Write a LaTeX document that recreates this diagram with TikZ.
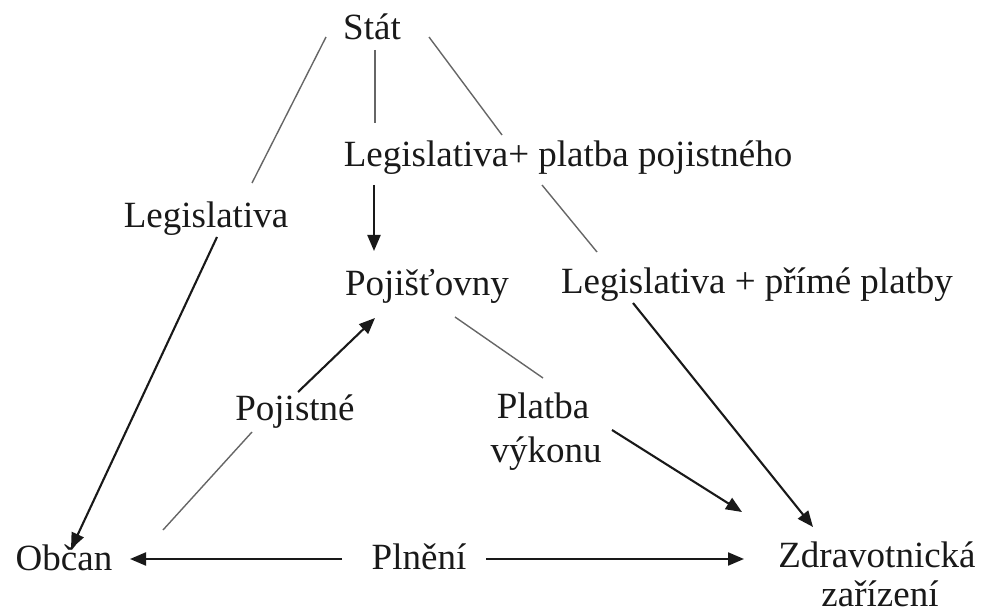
\documentclass[tikz,border=0pt]{standalone}
\usepackage{fontspec}
\setmainfont{Liberation Serif}
\usetikzlibrary{arrows.meta}
\begin{document}
\begin{tikzpicture}[x=1pt,y=-1pt,
  lbl/.style={font=\fontsize{37}{42}\selectfont, inner sep=0pt, anchor=base, text=black!90},
  thinline/.style={draw=black!60, line width=1.4pt},
  arr/.style={draw=black!90, line width=2.1pt, -{Triangle[length=16pt,width=13pt]}}]
\useasboundingbox (0,0) rectangle (984,612);
% labels
\node[lbl] (stat)    at (372,40)  {Stát};
\node[lbl] (legA)    at (568,167) {Legislativa+ platba pojistného};
\node[lbl] (legL)    at (206,228) {Legislativa};
\node[lbl] (poj)     at (427,295) {Pojišťovny};
\node[lbl] (legB)    at (757,293) {Legislativa + přímé platby};
\node[lbl] (pojis)   at (295,420) {Pojistné};
\node[lbl] (platba)  at (543,418) {Platba};
\node[lbl] (vykonu)  at (546,462) {výkonu};
\node[lbl] (obcan)   at (64,570)  {Občan};
\node[lbl] (plneni)  at (419,569) {Plnění};
\node[lbl] (zdrav)   at (877,567) {Zdravotnická};
\node[lbl] (zariz)   at (880,606) {zařízení};
% connector end points
\coordinate (s1a) at (326,37);  \coordinate (s1b) at (252,183);
\coordinate (s1c) at (217,237); \coordinate (s1t) at (71,549);
\coordinate (s2a) at (375,50);  \coordinate (s2b) at (375,123);
\coordinate (s2c) at (374,185); \coordinate (s2t) at (374,251);
\coordinate (s3a) at (429,37);  \coordinate (s3b) at (502,135);
\coordinate (s3c) at (542,185); \coordinate (s3d) at (597,252);
\coordinate (s3e) at (633,303); \coordinate (s3t) at (813,527);
\coordinate (p1a) at (163,530); \coordinate (p1b) at (252,432);
\coordinate (p1c) at (298,392); \coordinate (p1t) at (375,318);
\coordinate (p2a) at (455,317); \coordinate (p2b) at (543,378);
\coordinate (p2c) at (612,430); \coordinate (p2t) at (742,512);
\coordinate (plL) at (342,559); \coordinate (plLt) at (130,559);
\coordinate (plR) at (486,559); \coordinate (plRt) at (744,559);
% connectors
\draw[thinline] (s1a) -- (s1b);
\draw[arr] (s1c) -- (s1t);
\draw[thinline] (s2a) -- (s2b);
\draw[arr] (s2c) -- (s2t);
\draw[thinline] (s3a) -- (s3b);
\draw[thinline] (s3c) -- (s3d);
\draw[arr] (s3e) -- (s3t);
\draw[thinline] (p1a) -- (p1b);
\draw[arr] (p1c) -- (p1t);
\draw[thinline] (p2a) -- (p2b);
\draw[arr] (p2c) -- (p2t);
\draw[arr] (plL) -- (plLt);
\draw[arr] (plR) -- (plRt);
\end{tikzpicture}
\end{document}
